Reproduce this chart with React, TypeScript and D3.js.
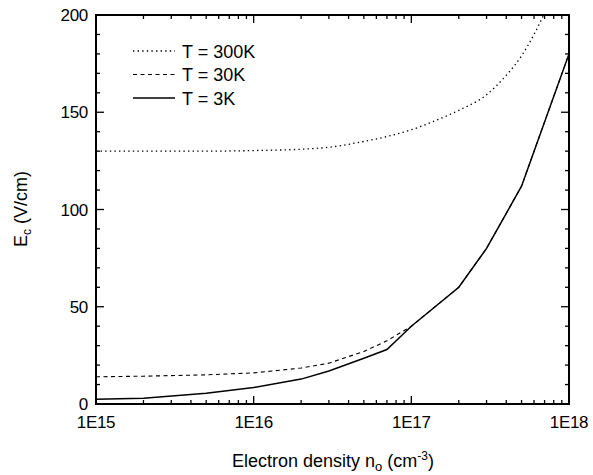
import React from "react";
import * as d3 from "d3";

const X_TICKS = [1e15, 1e16, 1e17, 1e18];
const X_TICK_LABELS = ["1E15", "1E16", "1E17", "1E18"];
const Y_TICKS = [0, 50, 100, 150, 200];

const SERIES_NAMES = ["T = 300K", "T = 30K", "T = 3K"];

const N_300K = [1e15, 2e15, 5e15, 1e16, 2e16, 3e16, 5e16, 7e16, 1e17, 1.5e17, 2e17, 3e17, 4e17, 5e17, 6e17, 7e17];
const E_300K = [130, 130, 130, 130.3, 131, 132, 135, 137.5, 141, 146.5, 151, 159, 169, 179, 190, 201];

const N_30K = [1e15, 2e15, 5e15, 1e16, 2e16, 3e16, 5e16, 7e16, 1e17, 2e17, 3e17, 5e17, 1e18];
const E_30K = [14, 14.3, 15, 16, 18.5, 21, 27, 32.5, 40, 60, 80, 112, 180];

const N_3K = [1e15, 2e15, 5e15, 1e16, 2e16, 3e16, 5e16, 7e16, 1e17, 2e17, 3e17, 5e17, 1e18];
const E_3K = [2.5, 3, 5.5, 8.5, 12.8, 17, 23.5, 28, 40, 60, 80, 112, 180];

const W = 593;
const H = 475;
const M = { left: 96, right: 569, top: 15, bottom: 404 };
const FONT = "'Liberation Sans', Arial, sans-serif";

export default function App() {
  const x = d3.scaleLog().domain([1e15, 1e18]).range([M.left, M.right]);
  const y = d3.scaleLinear().domain([0, 200]).range([M.bottom, M.top]);

  const line = (ns: number[], es: number[], curve: any) =>
    d3
      .line<number>()
      .x((_, i) => x(ns[i]))
      .y((d) => y(d))
      .curve(curve)(es) || "";

  const minorX: number[] = [];
  for (let e = 15; e < 18; e++) {
    for (let k = 2; k <= 9; k++) minorX.push(k * Math.pow(10, e));
  }
  const minorY: number[] = [];
  for (let v = 10; v < 200; v += 10) if (v % 50 !== 0) minorY.push(v);

  const major = 8;
  const minor = 4;

  const styles = [
    { dash: "1.4,3.2", width: 1.3 },
    { dash: "4,3.5", width: 1.1 },
    { dash: "", width: 1.5 },
  ];

  return (
    <svg width={W} height={H} style={{ position: "absolute", left: 0, top: 0, background: "#fff" }}>
      <defs>
        <clipPath id="plotClip">
          <rect x={M.left} y={M.top} width={M.right - M.left} height={M.bottom - M.top} />
        </clipPath>
      </defs>

      <g clipPath="url(#plotClip)" fill="none" stroke="#000">
        <path d={line(N_30K, E_30K, d3.curveLinear)} strokeDasharray={styles[1].dash} strokeWidth={styles[1].width} />
        <path d={line(N_300K, E_300K, d3.curveMonotoneX)} strokeDasharray={styles[0].dash} strokeWidth={styles[0].width} />
        <path d={line(N_3K, E_3K, d3.curveLinear)} strokeWidth={styles[2].width} />
      </g>

      <rect x={M.left} y={M.top} width={M.right - M.left} height={M.bottom - M.top} fill="none" stroke="#000" strokeWidth={2} />

      <g stroke="#000" strokeWidth={1.3}>
        {X_TICKS.map((t, i) => (
          <g key={"xm" + i}>
            <line x1={x(t)} x2={x(t)} y1={M.bottom} y2={M.bottom - major} />
            <line x1={x(t)} x2={x(t)} y1={M.top} y2={M.top + major} />
          </g>
        ))}
        {minorX.map((t, i) => (
          <g key={"xn" + i}>
            <line x1={x(t)} x2={x(t)} y1={M.bottom} y2={M.bottom - minor} />
            <line x1={x(t)} x2={x(t)} y1={M.top} y2={M.top + minor} />
          </g>
        ))}
        {Y_TICKS.map((t, i) => (
          <g key={"ym" + i}>
            <line x1={M.left} x2={M.left + major} y1={y(t)} y2={y(t)} />
            <line x1={M.right} x2={M.right - major} y1={y(t)} y2={y(t)} />
          </g>
        ))}
        {minorY.map((t, i) => (
          <g key={"yn" + i}>
            <line x1={M.left} x2={M.left + minor} y1={y(t)} y2={y(t)} />
            <line x1={M.right} x2={M.right - minor} y1={y(t)} y2={y(t)} />
          </g>
        ))}
      </g>

      <g fontFamily={FONT} fontSize={17} fill="#000">
        {X_TICKS.map((t, i) => (
          <text key={"xl" + i} x={x(t)} y={428} textAnchor="middle" letterSpacing={-0.3}>
            {X_TICK_LABELS[i]}
          </text>
        ))}
        {Y_TICKS.map((t, i) => (
          <text key={"yl" + i} x={88} y={y(t) + 6} textAnchor="end" letterSpacing={-0.3}>
            {t}
          </text>
        ))}
      </g>

      <text x={333} y={467} textAnchor="middle" fontFamily={FONT} fontSize={18}>
        Electron density n
        <tspan fontSize={13} dy={4}>o</tspan>
        <tspan dy={-4}> (cm</tspan>
        <tspan fontSize={12} dy={-7}>-3</tspan>
        <tspan dy={7}>)</tspan>
      </text>
      <text transform={`translate(27,209) rotate(-90)`} textAnchor="middle" fontFamily={FONT} fontSize={18}>
        E<tspan fontSize={12} dy={4}>c</tspan>
        <tspan dy={-4}> (V/cm)</tspan>
      </text>

      <g fontFamily={FONT} fontSize={18}>
        {SERIES_NAMES.map((name, i) => {
          const yy = 51 + i * 23.5;
          return (
            <g key={"lg" + i}>
              <line x1={133} x2={175} y1={yy} y2={yy} stroke="#000" strokeWidth={styles[i].width} strokeDasharray={styles[i].dash} />
              <text x={182} y={yy + 6.5}>{name}</text>
            </g>
          );
        })}
      </g>
    </svg>
  );
}
